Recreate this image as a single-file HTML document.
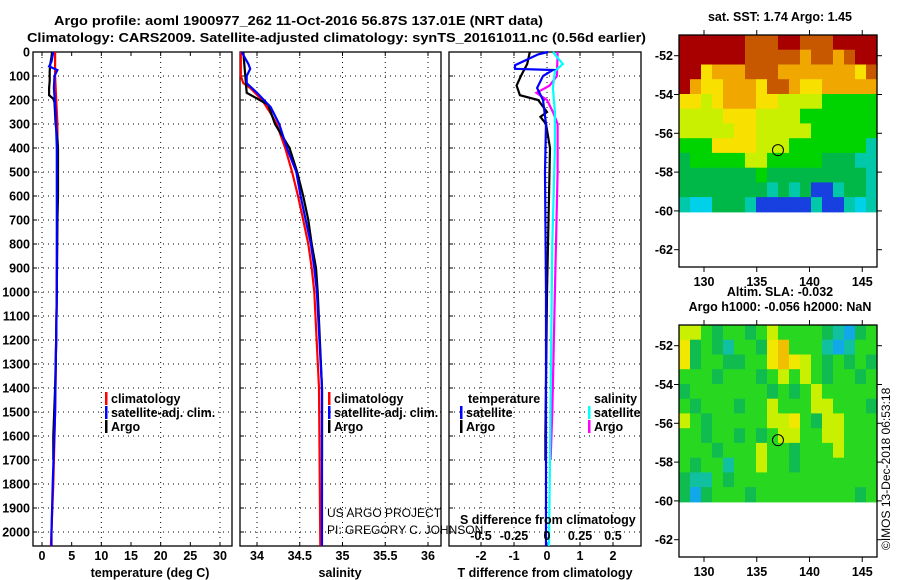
<!DOCTYPE html>
<html><head><meta charset="utf-8"><style>
html,body{margin:0;padding:0;background:#fff}
svg{display:block}
text{font-family:"Liberation Sans",Arial,sans-serif}
.b{font-weight:bold;font-size:13px}
.t{font-weight:bold;font-size:12.5px}
</style></head><body>
<svg id="c" width="900" height="580" viewBox="0 0 900 580" xmlns="http://www.w3.org/2000/svg">
<text class="b" x="54" y="25" textLength="489" lengthAdjust="spacingAndGlyphs">Argo profile: aoml 1900977_262 11-Oct-2016 56.87S 137.01E (NRT data)</text>
<text class="b" x="27" y="42" textLength="619" lengthAdjust="spacingAndGlyphs">Climatology: CARS2009. Satellite-adjusted climatology: synTS_20161011.nc (0.56d earlier)</text>
</svg>
<script>
// ---- data ----
const depthTicks=[0,100,200,300,400,500,600,700,800,900,1000,1100,1200,1300,1400,1500,1600,1700,1800,1900,2000];
const tTicks=[0,5,10,15,20,25,30];
const sTicks=[34,34.5,35,35.5,36];
const dtTicks=[-2,-1,0,1,2];
const dsTickLabels=["-0.5","-0.25","0","0.25","0.5"];
const dsTicks=[-0.5,-0.25,0,0.25,0.5];
const argoTdepth=[0,20,50,80,120,150,180,195,210,300,360,400,600,700,1000,1200,1400,1600,1700];
const argoT=[1.7,1.6,1.4,1.3,1.3,1.2,1.2,1.9,2.1,2.3,2.6,2.7,2.7,2.6,2.5,2.4,2.2,1.9,1.9];
const climTdepth=[0,100,200,300,500,1000,1500,1800,2058];
const climT=[2.2,2.2,2.4,2.6,2.6,2.5,2.2,1.9,1.5];
const satTdepth=[0,40,60,75,100,150,250,400,1000,1500,1800,2000,2058];
const satT=[1.9,1.6,1.2,2.6,2.1,2.0,2.3,2.5,2.5,2.2,1.8,1.6,1.6];
const climSdepth=[0,100,130,150,200,250,300,400,500,600,700,800,900,1000,1400,2058];
const climS=[33.81,33.81,33.84,33.92,34.06,34.15,34.23,34.33,34.41,34.48,34.54,34.60,34.64,34.67,34.725,34.74];
const argoSdepth=[0,170,190,220,300,400,500,600,700,800,900,1000,1400,1700];
const argoS=[33.84,33.88,33.98,34.13,34.21,34.38,34.47,34.54,34.60,34.64,34.69,34.71,34.76,34.76];
const satSdepth=[0,50,70,100,130,170,230,300,400,500,600,700,800,900,1000,1400,2058];
const satS=[33.82,33.90,33.92,33.88,33.88,34.0,34.16,34.26,34.35,34.46,34.51,34.57,34.63,34.67,34.70,34.76,34.76];
const dTargoDepth=[0,50,100,140,180,200,250,270,300,400,600,1000,1600,1700];
const dTargo=[-0.52,-0.6,-0.79,-0.92,-0.82,-0.27,0,-0.2,-0.03,0.09,0.06,0,-0.05,-0.05];
const dTsatDepth=[0,10,55,70,75,100,150,200,300,500,1000,2058];
const dTsat=[0.03,-0.27,-0.97,-0.97,0.18,-0.12,-0.3,-0.12,-0.03,-0.06,-0.03,-0.03];
const dSsatDepth=[0,50,80,150,250,400,800,2058];
const dSsat=[0.045,0.12,0.06,0.045,0.06,0.06,0.04,0.015];
const dSargoDepth=[0,100,140,170,200,250,300,500,1000,1500,1700];
const dSargo=[0.08,0.075,0.02,-0.08,0,0.045,0.08,0.08,0.06,0.04,0.027];
const mapLatTicks=[-52,-54,-56,-58,-60,-62];
const mapLonTicks=[130,135,140,145];
const argoLon=137.01, argoLat=-56.87;
const sstRows=["RRRRRROOORROOORRRR","RRRRRROOOOOoOOoORR","RRYoooOOOoooooooYO","RoYYoooYOOoYYooooo","YYyYoooYYyyyyGGGGG","yyyyYYYyyyyGGGGGGG","yyyyyYYyyyyyGGGGGG","GGGYYYYyyyGGGGGGGc","gGGGGGyyGGGGGgggcc","gggggggGgggggggggc","ggggggggcgcgBBcggc","cCCgggcBBBBBcBBcCc"];
const slaRows=["yyGgGGgGyGGGGgcCgG","YgGgcGGgYoGGGcCcGG","YgGGggGGYoYyGgGgGg","GGGgGGGgGyGyGgGGgG","gGGGGGGGgGgGyGGGGG","GgGGGgGGyGGGyyGGGg","yGgGGGGGyyYGgyyGGG","GGgGGgGgGyyGGyyGGG","GGGgGGGyGGgGGGyGGG","GgGGcGGyGGgGGGGGGG","gccGgGGGGGGGGGGGGG","gCgGGGgGGGGGGGGGgG"];
// ---- drawing ----
const NS="http://www.w3.org/2000/svg", svg=document.getElementById('c');
function el(tag,attrs,parent){const e=document.createElementNS(NS,tag);for(const k in attrs)e.setAttribute(k,attrs[k]);(parent||svg).appendChild(e);return e;}
function txt(s,x,y,cls,anchor,parent){const e=el('text',{x:x,y:y,'class':cls||'t','text-anchor':anchor||'start'},parent);e.textContent=s;return e;}
const Y0=52,Y1=546,yd=d=>Y0+d*0.24;
const panels=[
 {x0:33,x1:232,fx:v=>42+v*5.933,ticks:tTicks,grid:[0,10,20,30],title:"temperature (deg C)",tx:150},
 {x0:240,x1:441,fx:v=>257+(v-34)*85.5,ticks:sTicks,grid:sTicks,title:"salinity",tx:340},
 {x0:449,x1:641,fx:v=>547+v*33,ticks:dtTicks,grid:dtTicks,title:"T difference from climatology",tx:545}
];
const fs=v=>547+v*132;
panels.forEach((p,i)=>{
 const g=el('g',{});
 
 
 depthTicks.forEach(d=>{const ln=el('line',{x1:p.x0,x2:p.x1,y1:yd(d),y2:yd(d),stroke:'#000','stroke-dasharray':'1,4','stroke-width':1},g);
   const tk=el('line',{x1:p.x0,x2:p.x0+4,y1:yd(d),y2:yd(d),stroke:'#000'},g);});
 p.grid.forEach(v=>{const ln=el('line',{x1:p.fx(v),x2:p.fx(v),y1:Y0,y2:Y1,stroke:'#000','stroke-dasharray':'1,4'},g);});
 p.ticks.forEach(v=>{el('line',{x1:p.fx(v),x2:p.fx(v),y1:Y1,y2:Y1-4,stroke:'#000'},g);el('line',{x1:p.fx(v),x2:p.fx(v),y1:Y0,y2:Y0+4,stroke:'#000'},g);
   const t=txt(String(v),p.fx(v),560,'t','middle',g);});
 const r=el('rect',{x:p.x0,y:Y0,width:p.x1-p.x0,height:Y1-Y0,fill:'none',stroke:'#000','stroke-width':1.3},g);
 
 const at=txt(p.title,p.tx,577,'t','middle',g);
});
depthTicks.forEach(d=>{const t=txt(String(d),30,yd(d)+4.5,'t','end');});
function line(ds,vs,fx,color,name){const pts=ds.map((d,i)=>fx(vs[i]).toFixed(1)+','+yd(d).toFixed(1)).join(' ');
 const e=el('polyline',{points:pts,fill:'none',stroke:color,'stroke-width':2.2,'stroke-linejoin':'miter'});
 }
const P=panels;
line(climTdepth,climT,P[0].fx,'#f00','temp-climatology-line');
line(argoTdepth,argoT,P[0].fx,'#000','temp-argo-line');
line(satTdepth,satT,P[0].fx,'#00f','temp-satellite-line');
line(climSdepth,climS,P[1].fx,'#f00','sal-climatology-line');
line(argoSdepth,argoS,P[1].fx,'#000','sal-argo-line');
line(satSdepth,satS,P[1].fx,'#00f','sal-satellite-line');
line(dSargoDepth,dSargo,fs,'#f0f','sdiff-argo-line');
line(dSsatDepth,dSsat,fs,'#0ff','sdiff-satellite-line');
line(dTargoDepth,dTargo,P[2].fx,'#000','tdiff-argo-line');
line(dTsatDepth,dTsat,P[2].fx,'#00f','tdiff-satellite-line');
// legends
function leg(x,y,color,label,name){const b=el('rect',{x:x,y:y-11,width:2.5,height:13,fill:color});
 const t=txt(label,x+6,y,'t');}
leg(105,403,'#f00','climatology','legend-temp-climatology');
leg(105,417,'#00f','satellite-adj. clim.','legend-temp-satellite');
leg(105,431,'#000','Argo','legend-temp-argo');
leg(328,403,'#f00','climatology','legend-sal-climatology');
leg(328,417,'#00f','satellite-adj. clim.','legend-sal-satellite');
leg(328,431,'#000','Argo','legend-sal-argo');
let tt=txt('temperature',468,403);
leg(460,417,'#00f','satellite','legend-tdiff-satellite');
leg(460,431,'#000','Argo','legend-tdiff-argo');
tt=txt('salinity',594,403);
leg(588,417,'#0ff','satellite','legend-sdiff-satellite');
leg(588,431,'#f0f','Argo','legend-sdiff-argo');
tt=txt('US ARGO PROJECT',327,517,'r');tt.setAttribute('style','font-size:12px;font-weight:normal');
tt=txt('PI: GREGORY C. JOHNSON',327,534,'r');tt.setAttribute('style','font-size:12px;font-weight:normal');
tt=txt('S difference from climatology',460,524);
dsTicks.forEach((v,i)=>{const t=txt(dsTickLabels[i],fs(v),540,'t','middle');});
// maps
const pal={R:'#a80000',O:'#c85800',o:'#f0a800',Y:'#f8e000',y:'#c8f000',G:'#00d400',g:'#00b848',c:'#00c8a8',C:'#00d0e8',B:'#1840e0'};
const pal2={G:'#28d820',g:'#10bc50',c:'#10c0a0',C:'#10a8e8',y:'#c8f000',Y:'#f0e800',o:'#f0c000'};
function map(top,title,rows,palette,name){
 const x0=679,x1=877,y0=top,y1=top+232;
 const lonX=l=>704+(l-130)*10.55, latY=la=>top+20.7+(-52-la)*19.4;
 const g=el('g',{});
 const yTop=y0,yBot=latY(-60.05);
 const nr=rows.length,nc=rows[0].length,cw=(x1-x0)/nc,ch=(yBot-yTop)/nr;
 rows.forEach((row,ri)=>{[...row].forEach((k,ci)=>{const c=el('rect',{x:(x0+ci*cw).toFixed(1),y:(yTop+ri*ch).toFixed(1),width:(cw+0.6).toFixed(1),height:(ch+0.6).toFixed(1),fill:palette[k]},g);
  });});
 el('rect',{x:x0,y:y0,width:x1-x0,height:y1-y0,fill:'none',stroke:'#000','stroke-width':1.3},g);
 mapLatTicks.forEach(la=>{const y=latY(la);el('line',{x1:x0-5,x2:x0,y1:y,y2:y,stroke:'#000'},g);el('line',{x1:x1,x2:x1+5,y1:y,y2:y,stroke:'#000'},g);
  const t=txt(String(la),673,y+4.5,'t','end',g);});
 mapLonTicks.forEach(lo=>{const x=lonX(lo);el('line',{x1:x,x2:x,y1:y1,y2:y1+5,stroke:'#000'},g);el('line',{x1:x,x2:x,y1:y0-5,y2:y0,stroke:'#000'},g);
  const t=txt(String(lo),x,y1+19,'t','middle',g);});
 const m=el('circle',{cx:lonX(argoLon),cy:latY(argoLat),r:5.5,fill:'none',stroke:'#000','stroke-width':1},g);
 
 title.forEach((s,i)=>{const t=txt(s,780,top-14-(title.length-1-i)*15,'t','middle',g);});
}
map(35,['sat. SST: 1.74 Argo: 1.45'],sstRows,pal,'sst-map');
map(325,['Altim. SLA: -0.032','Argo h1000: -0.056 h2000: NaN'],slaRows,pal2,'sla-map');
tt=txt('©IMOS 13-Dec-2018 06:53:18',0,0,'r');tt.setAttribute('style','font-size:12px;font-weight:normal');
tt.setAttribute('transform','translate(890,550) rotate(-90)');

</script>
</body></html>
